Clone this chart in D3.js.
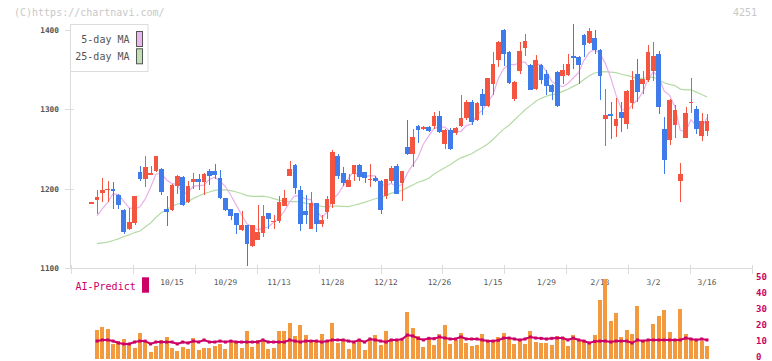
<!DOCTYPE html>
<html><head><meta charset="utf-8">
<script src="https://cdn.jsdelivr.net/npm/d3@7"></script>
<style>
html,body{margin:0;padding:0;background:#fff;}
svg{display:block;font-family:"DejaVu Sans Mono","Liberation Mono",monospace;}
</style></head>
<body>
<svg id="c" width="772" height="361"></svg>
<script>
// ---- data ----
const opens  = [1183,1186,1195,1199,1200,1192,1173,1149,1157,1221,1212,1218,1223,1225,1175,1173,1204,1215,1184,1209,
1212,1209,1222,1222,1214,1188,1175,1170,1148,1155,1128,1136,1145,1170,1159,1160,1178,1216,1230,1199,
1172,1149,1182,1156,1171,1181,1242,1220,1202,1219,1230,1221,1212,1214,1210,1191,1210,1229,1208,1253,
1244,1279,1275,1278,1279,1292,1257,1274,1270,1279,1289,1309,1287,1319,1304,1332,1362,1400,1372,1313,
1348,1377,1356,1326,1356,1345,1331,1347,1342,1343,1367,1366,1394,1384,1390,1375,1288,1294,1279,1297,
1282,1308,1345,1332,1337,1348,1370,1275,1262,1280,1210,1264,1308,1300,1267,1273];
const highs  = [1183,1199,1214,1210,1209,1193,1175,1176,1191,1229,1242,1229,1242,1226,1191,1206,1217,1216,1210,1220,
1219,1220,1225,1231,1224,1189,1175,1170,1172,1155,1155,1180,1180,1170,1167,1191,1199,1235,1231,1204,
1192,1196,1182,1167,1191,1249,1244,1228,1219,1230,1231,1221,1231,1216,1211,1213,1229,1231,1223,1287,
1275,1281,1279,1279,1297,1298,1275,1277,1278,1318,1312,1312,1309,1326,1340,1372,1386,1401,1373,1336,
1385,1395,1357,1369,1357,1350,1332,1348,1357,1370,1408,1367,1395,1403,1400,1376,1326,1309,1314,1309,
1324,1348,1364,1348,1381,1385,1374,1290,1313,1306,1233,1303,1340,1304,1295,1294];
const lows   = [1183,1168,1183,1183,1175,1175,1143,1148,1155,1210,1202,1217,1221,1192,1153,1172,1194,1178,1182,1200,
1199,1192,1205,1212,1187,1172,1161,1143,1147,1103,1127,1135,1139,1150,1150,1157,1178,1216,1193,1147,
1156,1149,1146,1152,1162,1176,1212,1204,1202,1210,1210,1207,1202,1209,1168,1187,1208,1193,1185,1243,
1228,1258,1274,1272,1275,1270,1250,1249,1268,1278,1287,1281,1286,1293,1303,1318,1353,1355,1332,1311,
1345,1367,1324,1325,1332,1318,1312,1303,1332,1342,1351,1332,1366,1383,1370,1312,1254,1263,1265,1271,
1275,1300,1309,1319,1334,1336,1294,1219,1255,1264,1183,1264,1295,1269,1260,1266];
const closes = [1183,1190,1199,1200,1197,1180,1146,1158,1191,1212,1228,1220,1241,1196,1171,1205,1216,1180,1204,1212,
1209,1219,1216,1217,1188,1173,1166,1155,1155,1131,1155,1146,1166,1162,1160,1183,1188,1225,1201,1156,
1167,1182,1156,1161,1187,1246,1216,1207,1211,1230,1215,1214,1213,1210,1173,1212,1226,1194,1222,1244,
1265,1274,1278,1273,1292,1272,1274,1250,1276,1289,1309,1284,1308,1304,1340,1357,1385,1370,1333,1335,
1374,1386,1325,1362,1337,1330,1322,1304,1350,1357,1365,1356,1381,1399,1375,1342,1293,1292,1288,1289,
1323,1337,1322,1338,1372,1367,1303,1236,1312,1299,1219,1295,1309,1275,1285,1285];
// moving-average values read where the window reaches before the first candle
const ma5Head  = [null,1166,1175,1183];
const ma25Head = [null,1131,1132,1133,1135,1137,1140,1142,1145,1147,1152,1157,1164,1170,1174,1178,1181,1182,1184,1188,1191,1194,1196,1198];
// lower panel (starts at the second candle)
const volume = [null,18.1,20,18.8,9.4,11.3,12.5,9.4,6.9,16.3,11.3,4.4,8.1,11.9,13.8,6.9,5,7.5,6.3,13.1,
5.6,6.9,6.9,8.1,9.4,6.3,11.3,11.3,6.9,17.5,7.5,11.9,11.9,6.3,6.9,17.5,17.5,22.5,14.4,21.3,
15,11.9,11.3,15.6,11.3,22.5,10,11.9,6.3,10,12.5,5.6,11.9,15,8.8,17.5,12.5,11.3,11.3,29.4,
19.4,14.4,7.5,12.5,8.8,15.6,21.3,9.4,11.9,16.3,10,8.1,8.8,15.6,11.3,11.3,13.8,16.3,13.1,9.4,
11.9,9.4,17.5,10.6,10,10,8.8,14.4,13.8,8.1,15,11.3,11.9,10,15,36.9,50,23.8,28.8,13.8,
18.1,15.6,33.1,11.3,11.9,21.9,26.9,30.6,16.9,11.3,31.3,15.6,11.9,11.3,11.3,8.1];
const aiPredict = [null,11.2,11.9,11.9,11.2,10,9.4,9.4,10.6,11.2,11.2,9.4,10.6,10.6,10.6,10.6,9.4,10.6,10,11.2,
10.6,11.9,10.6,10.6,11.2,10.6,11.2,10.6,10.6,10.6,10.6,10.6,11.9,10.6,10.6,10.6,10.6,11.9,11.2,10.6,
11.2,11.2,11.2,10.6,11.2,11.9,11.9,11.9,11.2,10.6,11.9,10.6,12.5,11.9,11.2,10.6,11.9,11.9,12.3,15,
14.4,12.9,11.9,12.9,12.7,13.8,13.1,12.5,12.5,13.8,12.5,12.5,12.5,11.9,11.2,11.2,11.7,13.1,13.1,12.5,
11.9,12.5,13.8,13.1,12.9,12.5,12.9,13.1,13.1,11.9,13.1,11.9,11.2,10,11,11.2,11.2,10.6,11.2,11.2,
11.2,10,11.9,11.2,11.9,11.9,11.9,11.9,11.9,11.9,11.9,13.1,12.5,11.9,12.5,11.9];
const tickLabels = ["10/15","10/29","11/13","11/28","12/12","12/26","1/15","1/29","2/13","3/2","3/16"];
const tickIndex  = [15,25,35,45,55,65,75,85,95,105,115];
const priceTicks = [1100,1200,1300,1400];
const volTicks   = [0,10,20,30,40,50];

// ---- derived moving averages ----
function movingAvg(head, n){
  return closes.map((c,i)=>{
    if(i < head.length) return head[i];
    return d3.mean(closes.slice(i-n+1,i+1));
  });
}
const ma5 = movingAvg(ma5Head,5);
const ma25 = movingAvg(ma25Head,25);

// ---- drawing ----
const svg = d3.select("#c");
const N = closes.length;
const x = d3.scaleLinear().domain([0,N-1]).range([91.7,707]);
const y = d3.scaleLinear().domain([1100,1400]).range([268.3,30]);
const yv = d3.scaleLinear().domain([0,50]).range([359,279]);
const grid = d3.scaleLinear().domain([0,11]).range([70.7,752.3]);
const RED="#f35540", BLUE="#3f7ce9", AXIS="#dcdcdc", TXT="#555";

// watermark & code
svg.append("text").attr("x",14).attr("y",16).attr("font-size",10).attr("fill","#c8c8c8").text("(C)https://chartnavi.com/");
svg.append("text").attr("x",757).attr("y",16).attr("text-anchor","end").attr("font-size",10).attr("fill","#c8c8c8").text("4251");

// x axis
svg.append("line").attr("x1",70.7).attr("x2",752.3).attr("y1",268.5).attr("y2",268.5).attr("stroke",AXIS);
const gx = svg.append("g").attr("transform","translate(0,265)")
  .call(d3.axisBottom(grid).ticks(11).tickSize(9).tickFormat(""));
gx.select(".domain").remove();
gx.selectAll("line").attr("stroke",AXIS).attr("shape-rendering","crispEdges");
svg.append("g").selectAll("text").data(tickLabels).join("text")
  .attr("x",(d,k)=>x(tickIndex[k])).attr("y",285).attr("text-anchor","middle")
  .attr("font-size",7.8).attr("fill",TXT).text(d=>d);

// y axis
svg.append("line").attr("x1",70.5).attr("x2",70.5).attr("y1",24).attr("y2",268.5).attr("stroke",AXIS);
const gy = svg.append("g").attr("transform","translate(73.5,0)")
  .call(d3.axisLeft(y).tickValues(priceTicks).tickSize(8.5).tickPadding(6).tickFormat(d3.format("d")));
gy.select(".domain").remove();
gy.selectAll("line").attr("stroke",AXIS).attr("shape-rendering","crispEdges");
gy.selectAll("text").attr("font-size",7.8).attr("fill",TXT).attr("font-family","DejaVu Sans Mono").attr("font-weight","bold");

// moving averages
const line = d3.line().defined(d=>d[1]!=null).x(d=>x(d[0])).y(d=>y(d[1]));
svg.append("path").datum(ma25.map((v,i)=>[i,v])).attr("d",line).attr("fill","none").attr("stroke","#b5dba5").attr("stroke-width",1.2);
svg.append("path").datum(ma5.map((v,i)=>[i,v])).attr("d",line).attr("fill","none").attr("stroke","#eab0ea").attr("stroke-width",1.2);

// candles
const cg = svg.append("g").attr("shape-rendering","crispEdges");
const bw = 4.7;
closes.forEach((c,i)=>{
  const o=opens[i], col = c>=o ? RED : BLUE;
  const cx = Math.round(x(i))+0.5;
  cg.append("line").attr("x1",cx).attr("x2",cx).attr("y1",y(highs[i])).attr("y2",y(lows[i])).attr("stroke",col);
  const top = y(Math.max(o,c)), h = Math.max(1.2, Math.abs(y(o)-y(c)));
  cg.append("rect").attr("x",x(i)-bw/2).attr("y",top).attr("width",bw).attr("height",h).attr("fill",col);
});

// legend
const lg = svg.append("g");
lg.append("rect").attr("x",70.5).attr("y",24.5).attr("width",77.5).attr("height",47).attr("fill","#fff").attr("stroke",AXIS);
[["5-day MA","#ecb6ec",31],["25-day MA","#bfe0b3",48.3]].forEach(([t,c,yy])=>{
  lg.append("text").attr("x",129.5).attr("y",yy+11.5).attr("text-anchor","end").attr("font-size",10).attr("fill",TXT).text(t);
  lg.append("rect").attr("x",136.5).attr("y",yy+0.5).attr("width",6).attr("height",15).attr("fill",c).attr("stroke","#555");
});

// lower panel
svg.append("text").attr("x",75.5).attr("y",289.5).attr("font-size",10).attr("fill","#cc0066").text("AI-Predict");
svg.append("rect").attr("x",142).attr("y",277.3).attr("width",7).attr("height",15.4).attr("fill","#cc0066");
svg.append("g").selectAll("text").data(volTicks).join("text")
  .attr("x",756).attr("y",d=>yv(d)+1.2).attr("font-size",9).attr("font-weight","bold").attr("fill","#cc0066").text(d=>d);
svg.append("g").attr("shape-rendering","crispEdges").selectAll("rect")
  .data(volume.map((v,i)=>[i,v]).filter(d=>d[1]!=null)).join("rect")
  .attr("x",d=>x(d[0])-2).attr("width",4).attr("y",d=>yv(d[1])).attr("height",d=>yv(0)-yv(d[1])).attr("fill","#f39a3f");
const aiData = aiPredict.map((v,i)=>[i,v]).filter(d=>d[1]!=null);
svg.append("path").datum(aiData).attr("d",d3.line().x(d=>x(d[0])).y(d=>yv(d[1])))
  .attr("fill","none").attr("stroke","#cc0066").attr("stroke-width",2);
svg.append("g").selectAll("rect").data(aiData).join("rect")
  .attr("x",d=>x(d[0])-1.5).attr("y",d=>yv(d[1])-1.5).attr("width",3).attr("height",3).attr("fill","#cc0066");
</script>
</body></html>
